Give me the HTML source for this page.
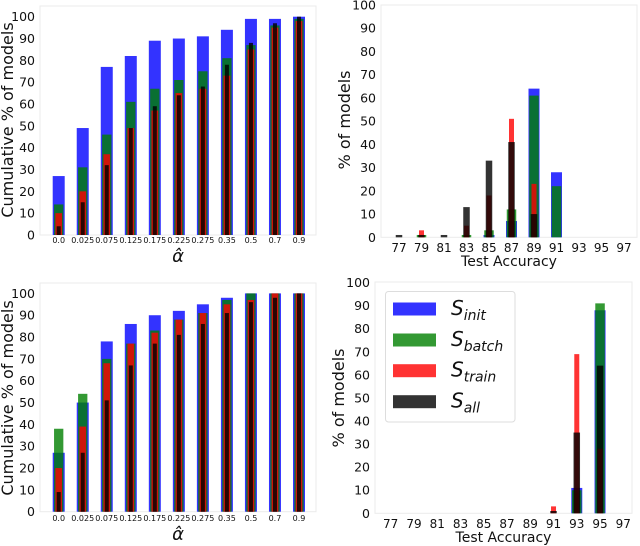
<!DOCTYPE html>
<html><head><meta charset="utf-8"><style>
body{margin:0;background:#fff}
svg{display:block;font-family:"DejaVu Sans","Liberation Sans",sans-serif}
</style></head><body>
<svg id="c" width="640" height="546" viewBox="0 0 640 546"></svg>
<script>
const alphaCats=["0.0","0.025","0.075","0.125","0.175","0.225","0.275","0.35","0.5","0.7","0.9"];
const accCats=["77","79","81","83","85","87","89","91","93","95","97"];
const yTicks=[0,10,20,30,40,50,60,70,80,90,100];
const tlBlue=[27,49,77,82,89,90,91,94,99,99,100];
const tlGreen=[14,31,46,61,67,71,75,81,87,96,99];
const tlRed=[10,20,37,49,57,65,67,73,85,95,98];
const tlBlack=[4,15,32,49,59,64,68,78,88,97,100];
const blBlue=[27,50,78,86,90,92,95,98,100,100,100];
const blGreen=[38,54,70,77,83,88,91,97,100,100,100];
const blRed=[20,39,68,77,82,88,91,95,97,100,100];
const blBlack=[9,27,51,67,77,81,86,91,96,98,100];
const trBlue=[0,0,0,0,1,7,64,28,0,0,0];
const trGreen=[0,1,0,1,3,12,61,22,0,0,0];
const trRed=[0,3,0,5,18,51,23,0,0,0,0];
const trBlack=[1,1,1,13,33,41,10,0,0,0,0];
const brBlue=[0,0,0,0,0,0,0,0,11,88,0];
const brGreen=[0,0,0,0,0,0,0,0,10,91,0];
const brRed=[0,0,0,0,0,0,0,3,69,28,0];
const brBlack=[0,0,0,0,0,0,0,1,35,64,0];

const NS="http://www.w3.org/2000/svg";
const svg=document.getElementById('c');
function mk(tag,attrs,parent){const e=document.createElementNS(NS,tag);for(const k in attrs)e.setAttribute(k,attrs[k]);(parent||svg).appendChild(e);return e;}
const cols=["rgba(0,0,255,0.8)","rgba(0,128,0,0.8)","rgba(255,0,0,0.8)","rgba(0,0,0,0.8)"];
const names=["s-init","s-batch","s-train","s-all"];

function panel(p){
  const g=mk('g',{});
  
  
  const xS=i=>p.x0+i*p.dx;
  const yS=v=>p.y0-v*p.ys;
  const frame=mk('rect',{x:p.left,y:p.top,width:p.right-p.left,height:p.y0-p.top,fill:'none',stroke:'#ebebeb','stroke-width':1},g);
  
  
  yTicks.forEach(t=>{
    const tx=mk('text',{x:p.left-5,y:yS(t)+4.5,'font-size':p.yfs,'text-anchor':'end',fill:'#111'},g);
    tx.textContent=t;
    
    
  });
  p.series.forEach((s,si)=>{
    s.forEach((v,i)=>{
      if(v<=0)return;
      const w=p.widths[si];
      const r=mk('rect',{x:xS(i)-w/2,y:yS(v),width:w,height:v*p.ys,fill:cols[si]},g);
      
      
    });
  });
  p.cats.forEach((c,i)=>{
    const tx=mk('text',{x:xS(i),y:p.xty,'font-size':p.xfs,'text-anchor':'middle',fill:'#111'},g);
    tx.textContent=c;
    
    
  });
  const xt=mk('text',{x:(p.left+p.right)/2,y:p.xly,'font-size':p.xlfs,'text-anchor':'middle',fill:'#111','font-style':p.xlItalic?'italic':'normal'},g);
  xt.textContent=p.xlabel;
  
  
  const yt=mk('text',{x:0,y:0,'font-size':p.ylfs,'text-anchor':'middle',fill:'#111',transform:`translate(${p.ylx},${p.yly}) rotate(-90)`},g);
  yt.textContent=p.ylabel;
  
  
}
const lw=[12,9.3,6.7,4];
const rw=[11,9.5,5,6.5];
panel({name:'top-left-chart',left:40,right:316,top:6,x0:58.7,dx:24.03,y0:235,ys:2.183,cats:alphaCats,series:[tlBlue,tlGreen,tlRed,tlBlack],widths:lw,xty:243,xfs:8,yfs:12.5,xlabel:'α̂',xly:262,xlfs:18,xlItalic:true,ylabel:'Cumulative % of models',ylx:13,yly:120,ylfs:16});
panel({name:'bottom-left-chart',left:40,right:316,top:283,x0:58.7,dx:24.03,y0:511.7,ys:2.183,cats:alphaCats,series:[blBlue,blGreen,blRed,blBlack],widths:lw,xty:521,xfs:8,yfs:12.5,xlabel:'α̂',xly:540,xlfs:18,xlItalic:true,ylabel:'Cumulative % of models',ylx:13,yly:398,ylfs:16});
panel({name:'top-right-chart',left:381,right:637,top:5,x0:399,dx:22.5,y0:237.3,ys:2.323,cats:accCats,series:[trBlue,trGreen,trRed,trBlack],widths:rw,xty:252,xfs:12,yfs:12.5,xlabel:'Test Accuracy',xly:266,xlfs:14,ylabel:'% of models',ylx:350,yly:120,ylfs:16});
panel({name:'bottom-right-chart',left:375,right:632,top:282,x0:390.7,dx:23.26,y0:513.3,ys:2.307,cats:accCats,series:[brBlue,brGreen,brRed,brBlack],widths:rw,xty:528,xfs:12,yfs:12.5,xlabel:'Test Accuracy',xly:542,xlfs:14,ylabel:'% of models',ylx:344,yly:398,ylfs:16});

const lg=mk('g',{});


const lb=mk('rect',{x:385.5,y:291.5,width:129.5,height:130.5,rx:3,fill:'#fff',stroke:'#ddd'},lg);


const subs=['init','batch','train','all'];
const rowsY=[309,340,370.7,401.7];
subs.forEach((s,i)=>{
  const r=mk('rect',{x:393,y:rowsY[i]-6.5,width:43,height:13,fill:cols[i]},lg);
  
  
  const t=mk('text',{x:451,y:rowsY[i]+6,'font-size':20,'font-style':'italic',fill:'#111'},lg);
  
  
  t.textContent='S';
  const ts=mk('tspan',{'font-size':14,dy:5},t);
  ts.textContent=s;
});
</script>
</body></html>
